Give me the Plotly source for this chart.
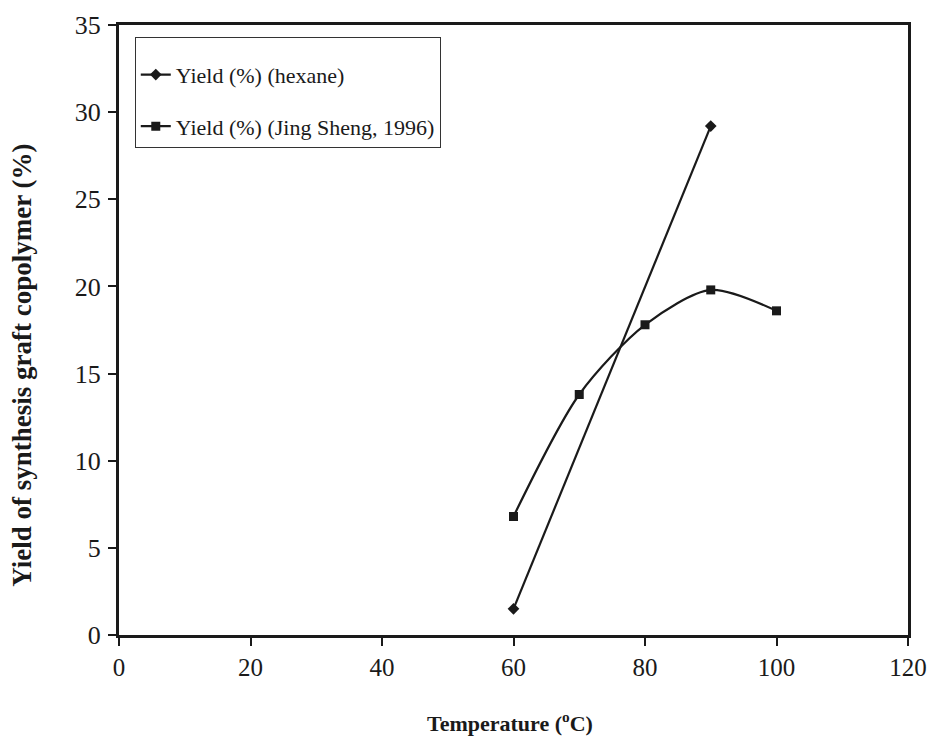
import plotly.graph_objects as go

# Graft copolymer yield versus reaction temperature
temp_hexane = [60, 90]
yield_hexane = [1.5, 29.2]

temp_jing = [60, 70, 80, 90, 100]
yield_jing = [6.8, 13.8, 17.8, 19.8, 18.6]

x_ticks = [0, 20, 40, 60, 80, 100, 120]
y_ticks = [0, 5, 10, 15, 20, 25, 30, 35]

x_title = "<b>Temperature (<sup>o</sup>C)</b>"
y_title = "<b>Yield of synthesis graft copolymer (%)</b>"

serif = "Times New Roman, Liberation Serif, serif"
ink = "#1a1a1a"

fig = go.Figure()
fig.add_trace(go.Scatter(
    x=temp_hexane, y=yield_hexane, mode="lines+markers",
    name="Yield (%) (hexane)", legendgroup="hexane",
    line=dict(color=ink, width=2.2),
    marker=dict(symbol="diamond", size=9, color=ink),
))
fig.add_trace(go.Scatter(
    x=temp_jing, y=yield_jing, mode="lines+markers",
    name="Yield (%) (Jing Sheng, 1996)", legendgroup="jing",
    line=dict(color=ink, width=2.2, shape="spline", smoothing=0.8),
    marker=dict(symbol="square", size=9, color=ink),
))

fig.update_layout(
    width=928, height=738,
    margin=dict(l=119, r=20, t=25, b=103, autoexpand=False),
    paper_bgcolor="white", plot_bgcolor="white",
    font=dict(family=serif, size=20, color=ink),
    showlegend=True,
    legend=dict(
        x=0.02, y=0.98, xanchor="left", yanchor="top",
        bgcolor="white", bordercolor="#333", borderwidth=1,
        font=dict(family=serif, size=22, color=ink),
        title=dict(text=" ", font=dict(size=12)),
        itemwidth=30, tracegroupgap=20, traceorder="grouped",
    ),
    annotations=[
        dict(text=x_title, xref="paper", yref="paper", x=0.4956, y=-0.1426,
             xanchor="center", yanchor="middle", showarrow=False,
             font=dict(family=serif, size=22, color=ink)),
        dict(text=y_title, xref="paper", yref="paper", x=-0.123, y=0.443,
             xanchor="center", yanchor="middle", showarrow=False, textangle=-90,
             font=dict(family=serif, size=27, color=ink)),
    ],
)
fig.update_xaxes(
    range=[0, 120], tickvals=x_ticks, ticktext=[str(v) for v in x_ticks],
    showgrid=False, zeroline=False, automargin=False,
    showline=True, linecolor=ink, linewidth=3, mirror=True,
    ticks="outside", ticklen=8, tickwidth=1.5, tickcolor=ink,
    tickfont=dict(family=serif, size=25), ticklabelstandoff=0,
)
fig.update_yaxes(
    range=[0, 35], tickvals=y_ticks, ticktext=[str(v) for v in y_ticks],
    showgrid=False, zeroline=False, automargin=False,
    showline=True, linecolor=ink, linewidth=3, mirror=True,
    ticks="outside", ticklen=8, tickwidth=1.5, tickcolor=ink,
    tickfont=dict(family=serif, size=26), ticklabelstandoff=2,
)

fig.write_html("out.html")
